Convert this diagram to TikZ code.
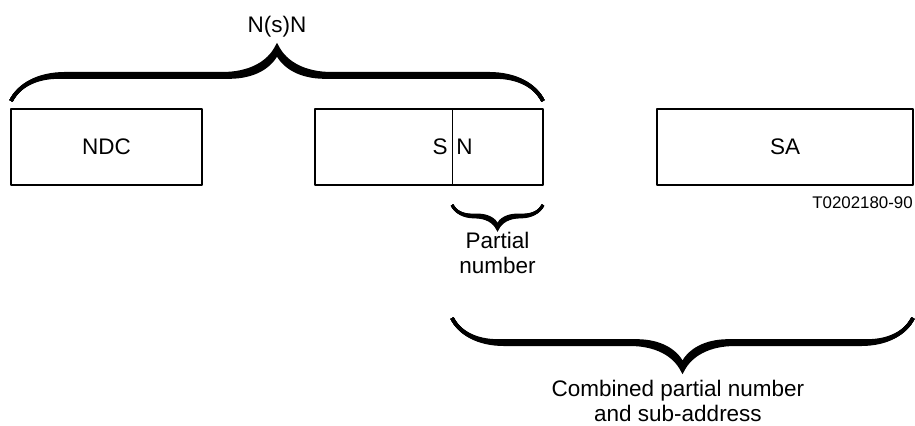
\documentclass[tikz,border=0pt]{standalone}
\usepackage{fontspec}
\setmainfont{Liberation Sans}
\usepackage{tkz-euclide}
\usetikzlibrary{decorations.pathreplacing}

\tikzset{
  curly/.style={decorate, decoration={brace, amplitude=#1}, line width=2.6pt},
  lbl/.style={font=\fontsize{16}{18}\selectfont, align=center, inner sep=0pt},
  tag/.style={font=\fontsize{12}{14}\selectfont, inner sep=0pt},
}

\begin{document}
\begin{tikzpicture}
    \useasboundingbox (0,0) rectangle (22.875,10.625);
    \tkzDefPoints{0.275/6/A, 5.05/6/B, 5.05/7.9/C, 0.275/7.9/D}
    \tkzDefPoints{7.875/6/E, 13.575/6/F, 13.575/7.9/G, 7.875/7.9/H, 11.3/6/I, 11.3/7.9/J}
    \tkzDefPoints{16.425/6/K, 22.825/6/L, 22.825/7.9/M, 16.425/7.9/P}
    \tkzDefPoints{0.275/8.1/T1, 13.575/8.1/T2, 11.3/5.5/Q1, 13.575/5.5/Q2, 11.3/2.675/R1, 22.825/2.675/R2}
    \tkzDrawPolygon[line width=1pt](A,B,C,D)
    \tkzDrawPolygon[line width=1pt](E,F,G,H)
    \tkzDrawPolygon[line width=1pt](K,L,M,P)
    \tkzDrawSegment[line width=0.7pt](I,J)
    % braces, drawn several times for a thick middle
    \foreach \a in {1.2,1.24,...,1.38}
      \draw[curly=\a cm] (T1) -- (T2);
    \foreach \a in {0.5,0.525,...,0.6}
      \draw[curly=\a cm, line width=2pt] (Q2) -- (Q1);
    \foreach \a in {1.15,1.19,...,1.33}
      \draw[curly=\a cm] (R2) -- (R1);
    % labels
    \node[lbl] (ndc) at (2.6625,6.95) {NDC};
    \node[lbl, anchor=east] (s) at (11.2,6.95) {S};
    \node[lbl, anchor=west] (n) at (11.4,6.95) {N};
    \node[lbl] (sa) at (19.625,6.95) {SA};
    \node[tag, anchor=east] (code) at (22.825,5.55) {T0202180-90};
    \node[lbl] (nsn) at (6.925,9.95) {N(s)N};
    \node[lbl] (part) at (12.44,4.3) {Partial\\number};
    \node[lbl] (comb) at (16.95,0.6) {Combined partial number\\and sub-address};
    \end{tikzpicture}
\end{document}
